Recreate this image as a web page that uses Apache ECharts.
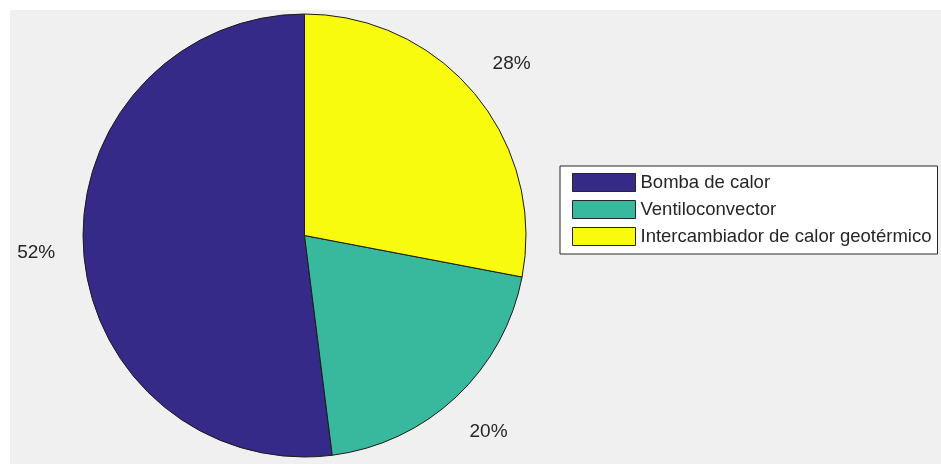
<!DOCTYPE html>
<html>
<head>
<meta charset="utf-8">
<script src="https://cdn.jsdelivr.net/npm/echarts@6/dist/echarts.min.js"></script>
<style>
  html, body { margin: 0; padding: 0; background: #ffffff; }
  #chart { position: absolute; left: 10px; top: 10px; width: 931px; height: 454px; background: #f0f0f0; }
</style>
</head>
<body>
<div id="chart"></div>
<script>
// Categories and their shares (percent)
const categories = ['Bomba de calor', 'Ventiloconvector', 'Intercambiador de calor geotérmico'];
const shares = [52, 20, 28];
const sliceColors = ['#352a87', '#38b99e', '#f9fb0e'];

const chart = echarts.init(document.getElementById('chart'), null, { renderer: 'canvas' });

const cx = 294.5, cy = 225.5, R = 221.5;
const labelR = R * 1.2; // percentage labels sit at 1.2 × radius, centred

const pieData = categories.map((name, i) => ({
  name: name,
  value: shares[i],
  itemStyle: { color: sliceColors[i] }
}));

chart.setOption({
  animation: false,
  textStyle: { fontFamily: 'Liberation Sans, Arial, sans-serif' },
  legend: {
    data: categories,
    orient: 'vertical',
    left: 550,
    top: 156,
    itemWidth: 63,
    itemHeight: 18,
    itemGap: 8,
    icon: 'rect',
    padding: [7, 6, 8, 12],
    backgroundColor: '#ffffff',
    borderColor: '#262626',
    borderWidth: 1,
    borderRadius: 0,
    selectedMode: false,
    itemStyle: { borderColor: '#262626', borderWidth: 1 },
    textStyle: { color: '#262626', fontSize: 18.5, lineHeight: 18, padding: [0, 0, 0, 0] }
  },
  series: [
    {
      type: 'pie',
      center: [cx, cy],
      radius: R,
      startAngle: 90,
      clockwise: false,
      silent: true,
      label: { show: false },
      labelLine: { show: false },
      itemStyle: { borderColor: '#1a1a1a', borderWidth: 1 },
      emphasis: { disabled: true },
      data: pieData
    },
    {
      // transparent ring carrying the percentage labels
      type: 'pie',
      center: [cx, cy],
      radius: [labelR - 12, labelR + 12],
      startAngle: 90,
      clockwise: false,
      silent: true,
      legendHoverLink: false,
      itemStyle: { color: 'rgba(0,0,0,0)', borderWidth: 0 },
      label: {
        show: true,
        position: 'inside',
        color: '#262626',
        fontSize: 19,
        formatter: p => Math.round(p.percent) + '%'
      },
      labelLine: { show: false },
      emphasis: { disabled: true },
      data: categories.map((name, i) => ({ name: name, value: shares[i] }))
    }
  ]
});
</script>
</body>
</html>
